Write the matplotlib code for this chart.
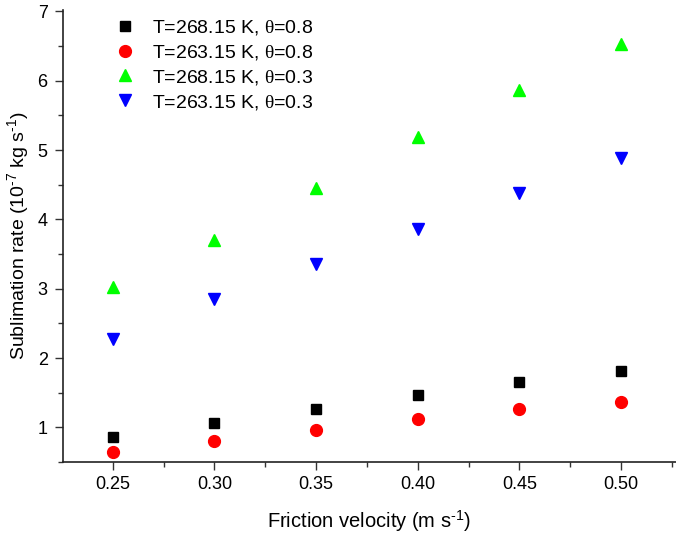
import matplotlib
matplotlib.use("Agg")
import matplotlib.pyplot as plt
from matplotlib.ticker import MultipleLocator

plt.rcParams['font.family'] = ['Liberation Sans', 'DejaVu Sans']
plt.rcParams['mathtext.fontset'] = 'custom'
plt.rcParams['mathtext.rm'] = 'Liberation Sans'
plt.rcParams['mathtext.it'] = 'Liberation Serif'
plt.rcParams['mathtext.default'] = 'rm'

velocity = [0.25, 0.30, 0.35, 0.40, 0.45, 0.50]
s_268_08 = [0.86, 1.06, 1.27, 1.46, 1.65, 1.81]
s_263_08 = [0.64, 0.80, 0.96, 1.12, 1.26, 1.37]
s_268_03 = [3.03, 3.70, 4.45, 5.19, 5.87, 6.53]
s_263_03 = [2.28, 2.85, 3.35, 3.86, 4.38, 4.89]
labels = [r'T=268.15 K, $\mathit{\theta}$=0.8', r'T=263.15 K, $\mathit{\theta}$=0.8',
          r'T=268.15 K, $\mathit{\theta}$=0.3', r'T=263.15 K, $\mathit{\theta}$=0.3']
xtick_labels = ['0.25', '0.30', '0.35', '0.40', '0.45', '0.50']

fig = plt.figure(figsize=(6.76, 5.33), dpi=100)
ax = fig.add_axes([63/676, 71/533, 1 - 63/676, (462-10)/533])

ax.plot(velocity, s_268_08, 's', color='black', markersize=7, label=labels[0], linestyle='none')
ax.plot(velocity, s_263_08, 'o', color='#ff0000', markersize=8.5, label=labels[1], linestyle='none')
ax.plot(velocity, s_268_03, '^', color='#00ff00', markersize=9, label=labels[2], linestyle='none')
ax.plot(velocity, s_263_03, 'v', color='#0000ff', markersize=9, label=labels[3], linestyle='none')

ax.set_xlim(0.2255, 0.527)
ax.set_ylim(0.5, 7.02)
ax.spines['top'].set_visible(False)
ax.spines['right'].set_visible(False)
ax.xaxis.set_minor_locator(MultipleLocator(0.025))
ax.yaxis.set_minor_locator(MultipleLocator(0.5))
ax.set_xticks(velocity)
ax.set_xticklabels(xtick_labels)
ax.set_yticks([1, 2, 3, 4, 5, 6, 7])
ax.tick_params(axis='both', which='major', length=6, width=1, labelsize=13, direction='out', color='#333333')
ax.tick_params(axis='both', which='minor', length=3.5, width=1, direction='out', color='#333333')
ax.tick_params(axis='x', pad=4)
ax.tick_params(axis='y', pad=5)
for sp in ['left', 'bottom']:
    ax.spines[sp].set_linewidth(1.2)
    ax.spines[sp].set_color('#222222')

ax.set_xlabel(r'Friction velocity (m s$^{\text{-}1}$)', fontsize=14.5, labelpad=11)
ax.set_ylabel(r'Sublimation rate (10$^{\text{-}7}$ kg s$^{\text{-}1}$)', fontsize=14, labelpad=5)

leg = ax.legend(loc='upper left', bbox_to_anchor=(0.063, 1.008), frameon=False, fontsize=14,
                handletextpad=0.8, labelspacing=0.3, borderaxespad=0.2, handlelength=1.2)

fig.savefig('out.png', dpi=100)
